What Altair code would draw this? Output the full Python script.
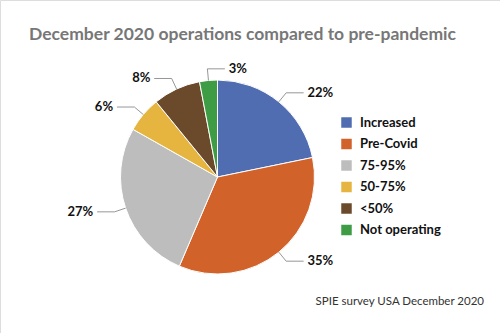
import math
import altair as alt
import pandas as pd

# ---- data ----
categories = ["Increased", "Pre-Covid", "75-95%", "50-75%", "<50%", "Not operating"]
values = [22, 35, 27, 6, 8, 3]
colors = ["#4f6db0", "#d0622a", "#bdbdbd", "#e6b53f", "#6a4a2a", "#3e9c45"]
title_text = "December 2020 operations compared to pre-pandemic"
source_text = "SPIE survey USA December 2020"

# ---- layout (not data) ----
CX, CY, R = 217.5, 177.0, 97.0
label_side = [1, 1, -1, -1, -1, 1]   # which way each leader line turns
ELBOW = 1.12
RUN = 0.18
GAP = 0.04
FONT = "Lato"

total = sum(values)
df = pd.DataFrame({"category": categories, "value": values, "order": range(len(values))})
df["label"] = [f"{v}%" for v in values]

cum = 0.0
lines, labels = [], []
for i, (c, v) in enumerate(zip(categories, values)):
    mid = (cum + v / 2) / total * 2 * math.pi
    cum += v
    sx, sy = math.sin(mid), math.cos(mid)
    ex, ey = ELBOW * sx, ELBOW * sy
    hx = ex + label_side[i] * RUN
    lines += [
        {"category": c, "pt": 0, "x": sx, "y": sy},
        {"category": c, "pt": 1, "x": ex, "y": ey},
        {"category": c, "pt": 2, "x": hx, "y": ey},
    ]
    labels.append({"category": c, "label": f"{v}%", "x": hx + label_side[i] * GAP,
                   "y": ey, "side": "left" if label_side[i] > 0 else "right"})
lines_df = pd.DataFrame(lines)
labels_df = pd.DataFrame(labels)

xs = alt.Scale(domain=[-1, 1], range=[CX - R, CX + R])
ys = alt.Scale(domain=[-1, 1], range=[CY + R, CY - R])

color = alt.Color(
    "category:N",
    scale=alt.Scale(domain=categories, range=colors),
    sort=categories,
    legend=alt.Legend(
        title=None, orient="none", legendX=340, legendY=116,
        symbolType="square", symbolSize=110, symbolStrokeWidth=0,
        labelFont=FONT, labelFontSize=13, labelFontWeight="bold", labelColor="#111",
        rowPadding=7.5, labelOffset=7,
    ),
)

pie = alt.Chart(df).mark_arc(radius=R, stroke="white", strokeWidth=1).encode(
    theta=alt.Theta("value:Q", stack=True),
    color=color,
    order=alt.Order("order:Q"),
    x=alt.value(CX),
    y=alt.value(CY),
)

leaders = alt.Chart(lines_df).mark_line(color="#8a8a8a", strokeWidth=0.9).encode(
    x=alt.X("x:Q", scale=xs, axis=None),
    y=alt.Y("y:Q", scale=ys, axis=None),
    detail="category:N",
    order="pt:Q",
)

lab_right = alt.Chart(labels_df[labels_df.side == "left"]).mark_text(
    align="left", baseline="middle", font=FONT, fontSize=13, fontWeight="bold", color="#111"
).encode(x=alt.X("x:Q", scale=xs, axis=None), y=alt.Y("y:Q", scale=ys, axis=None), text="label:N")

lab_left = alt.Chart(labels_df[labels_df.side == "right"]).mark_text(
    align="right", baseline="middle", font=FONT, fontSize=13, fontWeight="bold", color="#111"
).encode(x=alt.X("x:Q", scale=xs, axis=None), y=alt.Y("y:Q", scale=ys, axis=None), text="label:N")

ann = pd.DataFrame({"t": [title_text]})
title = alt.Chart(ann).mark_text(
    font=FONT, fontSize=17.5, fontWeight="bold", color="#777777", align="center", baseline="middle"
).encode(text="t:N", x=alt.value(242.5), y=alt.value(35))

src = pd.DataFrame({"t": [source_text]})
source = alt.Chart(src).mark_text(
    font=FONT, fontSize=11.5, color="#333", align="right", baseline="middle"
).encode(text="t:N", x=alt.value(484), y=alt.value(302))

chart = alt.layer(pie, leaders, lab_right, lab_left, title, source).properties(
    width=500, height=333, padding=0, autosize=alt.AutoSizeParams(type="none")
).configure_view(stroke=None).configure(background="white")

chart.save("out.html", embed_options={"renderer": "svg", "actions": False})
